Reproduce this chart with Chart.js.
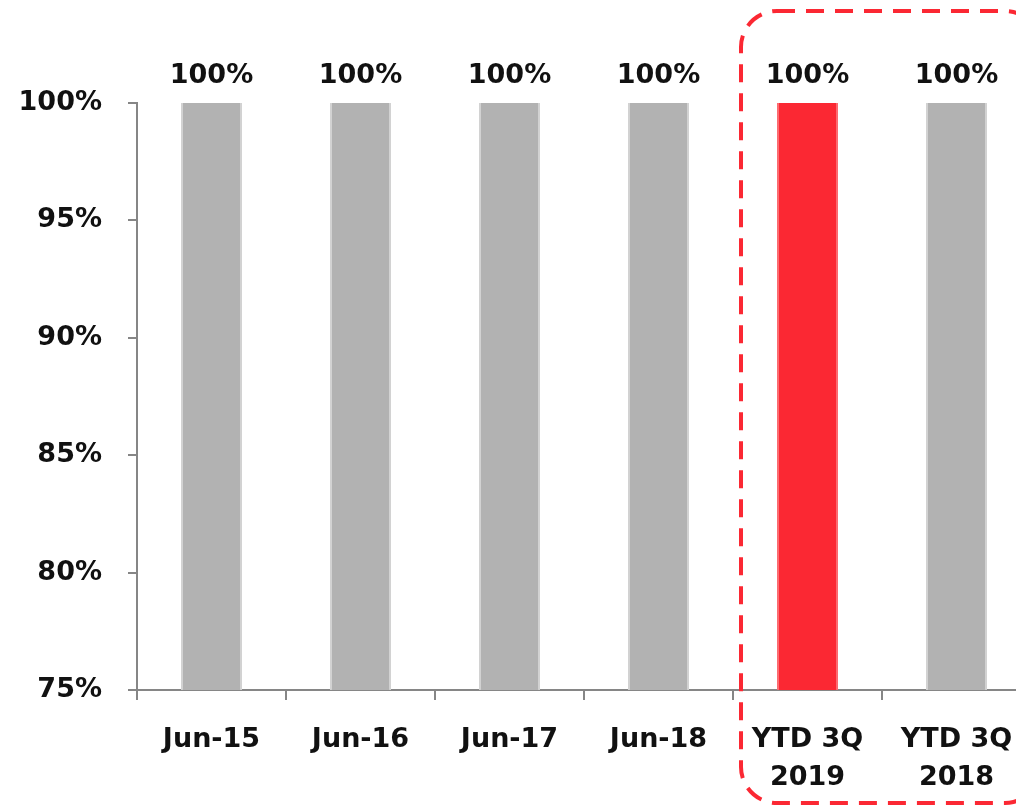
<!DOCTYPE html>
<html>
<head>
<meta charset="utf-8">
<script src="https://cdn.jsdelivr.net/npm/chart.js@4"></script>
<style>
  html, body { margin:0; padding:0; background:#fff; overflow:hidden; }
  #wrap { width:1040px; height:808px; }
</style>
</head>
<body>
<div id="wrap"><canvas id="chart" width="1040" height="808"></canvas></div>
<script>
// ── datos ──
const labels = ['Jun-15', 'Jun-16', 'Jun-17', 'Jun-18', ['YTD 3Q', '2019'], ['YTD 3Q', '2018']];
const valores = [100, 100, 100, 100, 100, 100];
const yTicks = [75, 80, 85, 90, 95, 100];
const destacado = 4;   // barra en rojo

const C = { gris:'#b2b2b2', grisBorde:'#d2d2d2', rojo:'#fb2833', rojoBorde:'#fd6a70', eje:'#868686', txt:'#111' };
const FONT = 'DejaVu Sans, Verdana, sans-serif';

// etiquetas de valor sobre cada barra
const etiquetas = {
  id:'etiquetas',
  afterDatasetsDraw(chart) {
    const ctx = chart.ctx, meta = chart.getDatasetMeta(0);
    ctx.save();
    ctx.font = `bold 27px ${FONT}`;
    ctx.fillStyle = C.txt;
    ctx.textAlign = 'center';
    ctx.textBaseline = 'alphabetic';
    meta.data.forEach((bar, i) => {
      ctx.fillText(valores[i] + '%', bar.x, bar.y - 20);
    });
    ctx.restore();
  }
};

// recuadro discontinuo alrededor de los YTD
const recuadro = {
  id:'recuadro',
  afterDraw(chart) {
    const ctx = chart.ctx, x = chart.scales.x;
    const paso = x.getPixelForValue(1) - x.getPixelForValue(0);
    const left = x.getPixelForValue(destacado) - paso / 2 + 8;
    const right = x.getPixelForValue(labels.length - 1) + paso / 2 + 10;
    const top = 11, bottom = 803, r = 36;
    ctx.save();
    ctx.strokeStyle = C.rojo;
    ctx.lineWidth = 4;
    ctx.setLineDash([18, 11]);
    ctx.beginPath();
    ctx.roundRect(left, top, right - left, bottom - top, r);
    ctx.stroke();
    ctx.restore();
  }
};

new Chart(document.getElementById('chart'), {
  type:'bar',
  data:{
    labels,
    datasets:[{
      data: valores,
      backgroundColor: valores.map((_, i) => i === destacado ? C.rojo : C.gris),
      borderColor: valores.map((_, i) => i === destacado ? C.rojoBorde : C.grisBorde),
      borderWidth: { left:2, right:2, top:0, bottom:0 },
      barPercentage: 0.41,
      categoryPercentage: 1
    }]
  },
  options:{
    responsive:false,
    animation:false,
    layout:{ padding:{ top:103, right:9, left:0, bottom:0 } },
    plugins:{ legend:{ display:false }, tooltip:{ enabled:false } },
    scales:{
      x:{
        offset:true,
        grid:{ display:true, offset:true, drawOnChartArea:false, drawTicks:true, tickLength:10, color:C.eje, lineWidth:2 },
        border:{ display:true, color:C.eje, width:2 },
        ticks:{ color:C.txt, padding:21, maxRotation:0, autoSkip:false,
          font:{ family:FONT, size:27, weight:'bold', lineHeight:1.4 } },
        afterFit: s => { s.height = 118; }
      },
      y:{
        min:75, max:100,
        afterBuildTicks: s => { s.ticks = yTicks.map(v => ({ value:v })); },
        grid:{ display:true, drawOnChartArea:false, drawTicks:true, tickLength:9, color:C.eje, lineWidth:2 },
        border:{ display:true, color:C.eje, width:2 },
        ticks:{ color:C.txt, padding:26, callback: v => v + '%',
          font:{ family:FONT, size:27, weight:'bold' } },
        afterFit: s => { s.width = 137; }
      }
    }
  },
  plugins:[etiquetas, recuadro]
});
</script>
</body>
</html>
